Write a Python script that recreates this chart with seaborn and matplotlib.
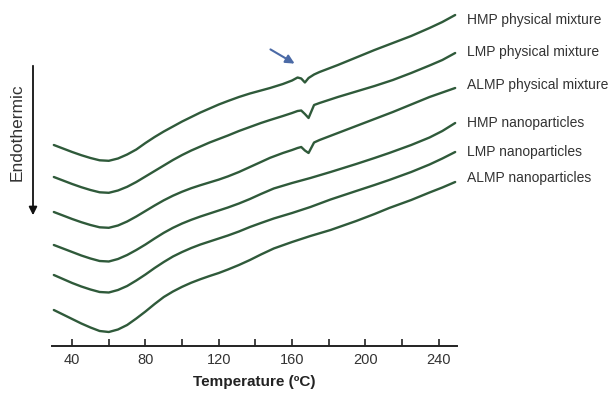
import matplotlib
matplotlib.use("Agg")
import matplotlib.pyplot as plt
from matplotlib.patches import FancyArrowPatch
import seaborn as sns
import pandas as pd

sns.set_theme(style="white")
plt.rcParams["font.family"] = ["Liberation Sans", "DejaVu Sans"]

# Temperature grids (deg C)
temp_mix = [30, 35, 40, 45, 50, 55, 60, 65, 70, 75, 80, 85, 90, 95, 100, 105, 110, 115,
            120, 125, 131, 137, 143, 148, 155, 160, 163, 165, 167, 169, 172, 175, 180,
            185, 195, 205, 215, 225, 235, 242, 249]
temp_nano = [30, 35, 40, 45, 50, 55, 60, 65, 70, 75, 80, 85, 90, 95, 100, 105, 110, 115,
             120, 125, 131, 137, 143, 150, 160, 170, 181, 195, 205, 213, 225, 235, 242, 249]

# Endothermic heat flow (arbitrary units, traces offset; larger = more endothermic)
hmp_mix = [14.5, 14.85, 15.2, 15.52, 15.8, 16.03, 16.08, 15.85, 15.45, 14.95, 14.3, 13.7,
           13.15, 12.65, 12.15, 11.7, 11.25, 10.85, 10.45, 10.1, 9.7, 9.35, 9.05, 8.8,
           8.4, 8.05, 7.75, 7.85, 8.25, 7.8, 7.45, 7.2, 6.85, 6.5, 5.75, 5.0, 4.3, 3.6,
           2.8, 2.2, 1.5]
lmp_mix = [17.7, 18.05, 18.4, 18.72, 19.0, 19.23, 19.28, 19.05, 18.68, 18.2, 17.65, 17.1,
           16.55, 16.0, 15.5, 15.05, 14.65, 14.25, 13.9, 13.55, 13.1, 12.7, 12.3, 12.0,
           11.6, 11.3, 11.1, 11.05, 11.4, 11.8, 10.5, 10.3, 10.0, 9.7, 9.15, 8.6, 8.0,
           7.3, 6.55, 6.0, 5.3]
almp_mix = [21.2, 21.55, 21.9, 22.22, 22.5, 22.73, 22.78, 22.55, 22.15, 21.65, 21.1,
            20.55, 20.03, 19.57, 19.17, 18.82, 18.52, 18.24, 17.96, 17.64, 17.2, 16.7, 16.2,
            15.78, 15.3, 15.0, 14.8, 14.7, 15.05, 15.3, 14.25, 14.0, 13.65, 13.3, 12.6,
            11.9, 11.2, 10.45, 9.7, 9.25, 8.8]
hmp_nano = [24.5, 24.85, 25.2, 25.55, 25.85, 26.1, 26.15, 25.9, 25.5, 25.0, 24.45, 23.85,
            23.28, 22.78, 22.35, 21.98, 21.65, 21.35, 21.05, 20.75, 20.35, 19.9, 19.4, 18.85,
            18.3, 17.8, 17.2, 16.4, 15.8, 15.3, 14.5, 13.75, 13.1, 12.3]
lmp_nano = [27.5, 27.9, 28.3, 28.65, 28.95, 29.2, 29.25, 29.0, 28.6, 28.05, 27.45, 26.8,
            26.2, 25.65, 25.2, 24.8, 24.45, 24.15, 23.85, 23.55, 23.15, 22.7, 22.3, 21.85,
            21.3, 20.7, 19.95, 19.1, 18.5, 18.0, 17.2, 16.45, 15.85, 15.2]
almp_nano = [31.0, 31.45, 31.9, 32.35, 32.75, 33.1, 33.2, 32.95, 32.5, 31.85, 31.15,
             30.4, 29.7, 29.15, 28.68, 28.27, 27.92, 27.6, 27.3, 26.95, 26.5, 26.0, 25.45,
             24.85, 24.2, 23.6, 23.0, 22.1, 21.4, 20.8, 20.0, 19.25, 18.75, 18.2]

sample_names = ["HMP physical mixture", "LMP physical mixture", "ALMP physical mixture",
                "HMP nanoparticles", "LMP nanoparticles", "ALMP nanoparticles"]
label_y = [2.0, 5.2, 8.5, 12.3, 15.2, 17.8]

frames = []
for name, temps, vals in zip(sample_names,
                             [temp_mix, temp_mix, temp_mix, temp_nano, temp_nano, temp_nano],
                             [hmp_mix, lmp_mix, almp_mix, hmp_nano, lmp_nano, almp_nano]):
    frames.append(pd.DataFrame({"Temperature": temps, "Heat flow": vals, "Sample": name}))
df = pd.concat(frames, ignore_index=True)

W, H = 614, 404
fig = plt.figure(figsize=(W / 100, H / 100), dpi=100)
ax = fig.add_axes([52 / W, 1 - 346 / H, (457 - 52) / W, (346 - 5) / H])

line_color = "#2f5a3a"
sns.lineplot(data=df, x="Temperature", y="Heat flow", units="Sample", estimator=None,
             color=line_color, linewidth=1.7, sort=False, ax=ax)
for ln in ax.lines:
    ln.set_solid_joinstyle("round")
    ln.set_solid_capstyle("round")

ax.set_xlim(29, 250)
ax.set_ylim(34.6, 0.5)  # endothermic direction points down
for side in ["top", "right", "left"]:
    ax.spines[side].set_visible(False)
ax.spines["bottom"].set_color("#222222")
ax.spines["bottom"].set_linewidth(1.4)
ax.set_yticks([])
ax.set_ylabel("")
ax.set_xticks([40, 80, 120, 160, 200, 240])
ax.set_xticks([60, 100, 140, 180, 220], minor=True)
ax.tick_params(axis="x", which="both", direction="in", length=5, width=1.2,
               color="#222222", bottom=True, labelsize=10.5, labelcolor="#333333", pad=5)
ax.set_xlabel("Temperature (ºC)", fontsize=11, fontweight="bold", color="#222222", labelpad=6)

# Trace labels at the right-hand end of each curve
for name, y in zip(sample_names, label_y):
    ax.text(255.5, y, name, fontsize=10, color="#333333", va="center", ha="left",
            clip_on=False)

# Endothermic direction indicator
fig.text(17 / W, 1 - 132 / H, "Endothermic", rotation=90, fontsize=12.5,
         color="#333333", ha="center", va="center")
fig.patches.append(FancyArrowPatch(
    (33 / W, 1 - 63 / H), (33 / W, 1 - 218 / H), transform=fig.transFigure,
    arrowstyle="-|>", mutation_scale=12, color="#111111", linewidth=1.3))

# Arrow pointing at the melting event
ax.annotate("", xy=(162.7, 6.5), xytext=(146.9, 4.8),
            arrowprops=dict(arrowstyle="-|>", color="#4b6aa6", lw=1.5, mutation_scale=13))

fig.savefig("out.png", dpi=100, facecolor="white")
